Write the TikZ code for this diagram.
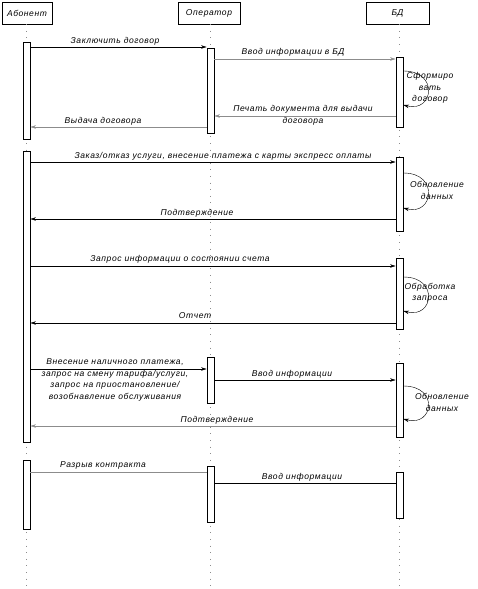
\documentclass[tikz,border=0pt]{standalone}
\usepackage{fontspec}
\setmainfont{Liberation Sans}[LetterSpace=7]
\usetikzlibrary{arrows.meta, positioning, calc}

\begin{document}
\begin{tikzpicture}[x=1pt, y=-1pt, >={Stealth[length=5.5pt, width=3.5pt]},
        actor/.style={draw, thin, minimum height=22pt, inner sep=0pt, font=\itshape\fontsize{8.5}{10}\selectfont},
        bar/.style={draw, thin, fill=white, minimum width=7.5pt, inner sep=0pt},
        msg/.style={->, thin},
        msggray/.style={->, thin, black!45},
        selfmsg/.style={->, thin},
        lbl/.style={inner sep=0pt, align=center, font=\itshape\fontsize{8.5}{11.5}\selectfont},
        life/.style={black!45, dash pattern=on 0.6pt off 6pt}]
                \useasboundingbox (0,0) rectangle (478,589);
                % participants
                \node[actor, minimum width=50pt] (ab) at (27,13) {Абонент};
                \node[actor, minimum width=62pt] (op) at (209,13) {Оператор};
                \node[actor, minimum width=63pt] (db) at (397.5,13) {БД};
                \coordinate (abend) at (26.5,586);
                \coordinate (opend) at (210.5,586);
                \coordinate (dbend) at (399.5,586);
                \draw[life] (ab.south -| abend) -- (abend);
                \draw[life] (op.south -| opend) -- (opend);
                \draw[life] (db.south -| dbend) -- (dbend);
                % activation bars
                \node[bar, minimum height=97pt] (a1) at (26.5,90.5) {};
                \node[bar, minimum height=85pt] (o1) at (210.5,90.5) {};
                \node[bar, minimum height=70pt] (d1) at (399.5,92) {};
                \node[bar, minimum height=291pt] (a2) at (26.5,296.5) {};
                \node[bar, minimum height=74pt] (d2) at (399.5,194) {};
                \node[bar, minimum height=71pt] (d3) at (399.5,293.5) {};
                \node[bar, minimum height=46pt] (o2) at (210.5,380) {};
                \node[bar, minimum height=74pt] (d4) at (399.5,400) {};
                \node[bar, minimum height=69pt] (a3) at (26.5,494.5) {};
                \node[bar, minimum height=56pt] (o3) at (210.5,494) {};
                \node[bar, minimum height=46pt] (d5) at (399.5,495) {};
                % first block
                \draw[msg] (a1.east |- 0,47) -- (o1.west |- 0,47);
                \node[lbl] (l1) at (115,41.5) {Заключить договор};
                \draw[msggray] (o1.east |- 0,59) -- (d1.west |- 0,59);
                \node[lbl] (l2) at (293,52) {Ввод информации в БД};
                \draw[selfmsg] (d1.east |- 0,71) .. controls +(36,0) and +(30,8) .. (d1.east |- 0,105);
                \node[lbl] (l3) at (430,88) {Сформиро\\вать\\договор};
                \draw[msggray] (d1.west |- 0,116) -- (o1.east |- 0,116);
                \node[lbl] (l4) at (303,115.5) {Печать документа для выдачи\\договора};
                \draw[msggray] (o1.west |- 0,127) -- (a1.east |- 0,127);
                \node[lbl] (l5) at (103,121) {Выдача договора};
                % second block
                \draw[msg] (a2.east |- 0,162) -- (d2.west |- 0,162);
                \node[lbl] (l6) at (223,156) {Заказ/отказ услуги, внесение платежа с карты экспресс оплаты};
                \draw[selfmsg] (d2.east |- 0,173) .. controls +(36,0) and +(30,8) .. (d2.east |- 0,208);
                \node[lbl] (l7) at (437,190.5) {Обновление\\данных};
                \draw[msg] (d2.west |- 0,219) -- (a2.east |- 0,219);
                \node[lbl] (l8) at (197,213) {Подтверждение};
                \draw[msg] (a2.east |- 0,266) -- (d3.west |- 0,266);
                \node[lbl] (l9) at (180,259) {Запрос информации о состоянии счета};
                \draw[selfmsg] (d3.east |- 0,277) .. controls +(36,0) and +(30,8) .. (d3.east |- 0,311);
                \node[lbl] (l10) at (430,293) {Обработка\\запроса};
                \draw[msg] (d3.west |- 0,323) -- (a2.east |- 0,323);
                \node[lbl] (l11) at (195,316) {Отчет};
                \draw[msg] (a2.east |- 0,369) -- (o2.west |- 0,369);
                \node[lbl] (l12) at (115,380) {Внесение наличного платежа,\\запрос на смену тарифа/услуги,\\запрос на приостановление/\\возобнавление обслуживания};
                \draw[msg] (o2.east |- 0,380) -- (d4.west |- 0,380);
                \node[lbl] (l13) at (292,374) {Ввод информации};
                \draw[selfmsg] (d4.east |- 0,386) .. controls +(36,0) and +(30,8) .. (d4.east |- 0,419);
                \node[lbl] (l14) at (442,402.5) {Обновление\\данных};
                \draw[msggray] (d4.west |- 0,426) -- (a2.east |- 0,426);
                \node[lbl] (l15) at (217,420) {Подтверждение};
                % third block
                \draw[black!45, semithick] (a3.east |- 0,472) -- (o3.west |- 0,472);
                \node[lbl] (l16) at (103,465.5) {Разрыв контракта};
                \draw[thin] (o3.east |- 0,483) -- (d5.west |- 0,483);
                \node[lbl] (l17) at (302,477.3) {Ввод информации};
\end{tikzpicture}
\end{document}
